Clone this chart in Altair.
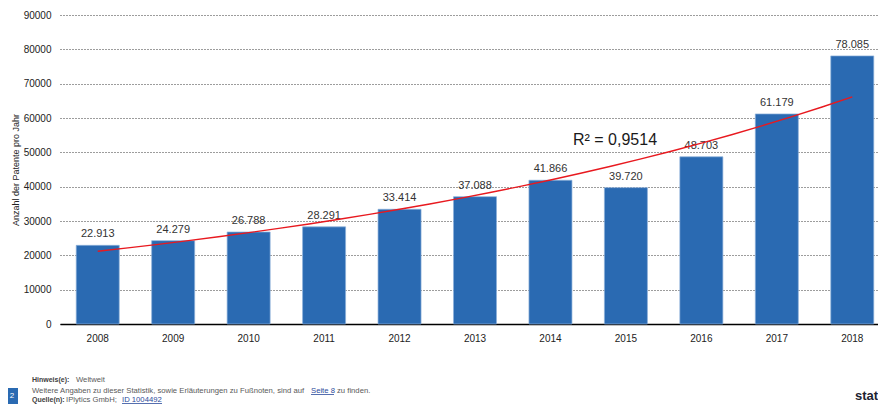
import altair as alt
import pandas as pd

years = [2008, 2009, 2010, 2011, 2012, 2013, 2014, 2015, 2016, 2017, 2018]
patents = [22913, 24279, 26788, 28291, 33414, 37088, 41866, 39720, 48703, 61179, 78085]
y_ticks = [0, 10000, 20000, 30000, 40000, 50000, 60000, 70000, 80000, 90000]
y_title = "Anzahl der Patente pro Jahr"
r2_label = "R² = 0,9514"
note_head = "Hinweis(e):"
note_text = "Weltweit"
more_text = "Weitere Angaben zu dieser Statistik, sowie Erläuterungen zu Fußnoten, sind auf"
more_link = "Seite 8"
more_end = "zu finden."
src_head = "Quelle(n):"
src_text = "IPlytics GmbH;"
src_link = "ID 1004492"
page_no = "2"
brand = "statista"

FONT = "Liberation Sans"
BAR = "#2a6ab2"

df = pd.DataFrame({"year": years, "patents": patents})

y_scale = alt.Scale(domain=[0, 90000], nice=False, zero=True)
y_axis = alt.Axis(values=y_ticks, format="d", title=y_title, grid=True,
                  gridDash=[1, 2], gridColor="#3a3a3a", gridWidth=1,
                  domain=False, ticks=False, labelPadding=9, labelFontSize=10,
                  labelColor="#222222", titleFontSize=9, titleFontWeight="normal",
                  titleColor="#222222", titlePadding=3)

xband = alt.X("year:O", scale=alt.Scale(paddingInner=0.43, paddingOuter=0.215, range=[0, 830]),
              axis=alt.Axis(title=None, labelAngle=0, ticks=False, grid=False,
                            domainColor="#000000", domainWidth=1.6, labelPadding=9,
                            labelFontSize=10, labelColor="#222222"))

base = alt.Chart(df)
bars = base.mark_bar(color=BAR, stroke="#8db0da", strokeWidth=0.7).encode(
    x=xband, y=alt.Y("patents:Q", scale=y_scale, axis=y_axis))
labels = base.transform_calculate(
    lbl="replace(format(datum.patents, ','), ',', '.')"
).mark_text(font=FONT, fontSize=11, color="#333333", baseline="alphabetic", dy=-8).encode(
    x=xband, y=alt.Y("patents:Q", scale=y_scale, axis=y_axis), text="lbl:N")
inner = alt.layer(bars, labels)

trend = base.transform_calculate(
    ln="log(datum.patents)"
).transform_regression(
    "year", "ln", method="poly", order=1
).transform_calculate(
    trend="exp(datum.ln)"
).mark_line(color="#e8191f", strokeWidth=1.4).encode(
    x=alt.X("year:Q", scale=alt.Scale(domain=[2007.5, 2018.5], nice=False, zero=False,
                                      range=[0, 830]), axis=None),
    y=alt.Y("trend:Q", scale=y_scale, axis=y_axis))


def txt(s, x, y, size=7.7, color="#595959", weight="normal", align="left", font=FONT):
    return alt.Chart(pd.DataFrame({"t": [s]})).mark_text(
        font=font, fontSize=size, color=color, fontWeight=weight, align=align,
        baseline="middle").encode(x=alt.value(x), y=alt.value(y), text="t:N")


def rule(x1, x2, y, color):
    return alt.Chart(pd.DataFrame({"t": [0]})).mark_rule(color=color, strokeWidth=0.8).encode(
        x=alt.value(x1), x2=alt.value(x2), y=alt.value(y))


square = alt.Chart(pd.DataFrame({"t": [0]})).mark_rect(color="#2a6ab2").encode(
    x=alt.value(-60), x2=alt.value(-42), y=alt.value(373), y2=alt.value(389))

layers = [
    inner, trend,
    txt(r2_label, 555, 125, size=16, color="#1a1a1a", align="center"),
    txt(note_head, -28, 364.5, size=7, color="#404040", weight="bold"),
    txt(note_text, 16, 364.5),
    txt(more_text, -28, 375.5),
    txt(more_link, 251, 375.5, color="#2b4a9b"),
    rule(251, 274, 379.5, "#2b4a9b"),
    txt(more_end, 277, 375.5),
    txt(src_head, -28, 384.5, size=7, color="#404040", weight="bold"),
    txt(src_text, 6, 384.5),
    txt(src_link, 62, 384.5, color="#2b4a9b"),
    rule(62, 102, 388.5, "#2b4a9b"),
    square,
    txt(page_no, -48, 381, size=8, color="#ffffff", align="center"),
    txt(brand, 795, 381, size=13, color="#1c2230", weight="bold"),
]

chart = alt.layer(*layers).resolve_scale(x="independent").properties(
    width=818, height=309,
    autosize=alt.AutoSizeParams(type="none"),
    padding={"left": 52, "top": 7, "right": 0, "bottom": 80},
).configure_view(stroke=None).configure_axis(labelFont=FONT, titleFont=FONT)

chart.save("out.html", embed_options={"renderer": "svg", "actions": False})
